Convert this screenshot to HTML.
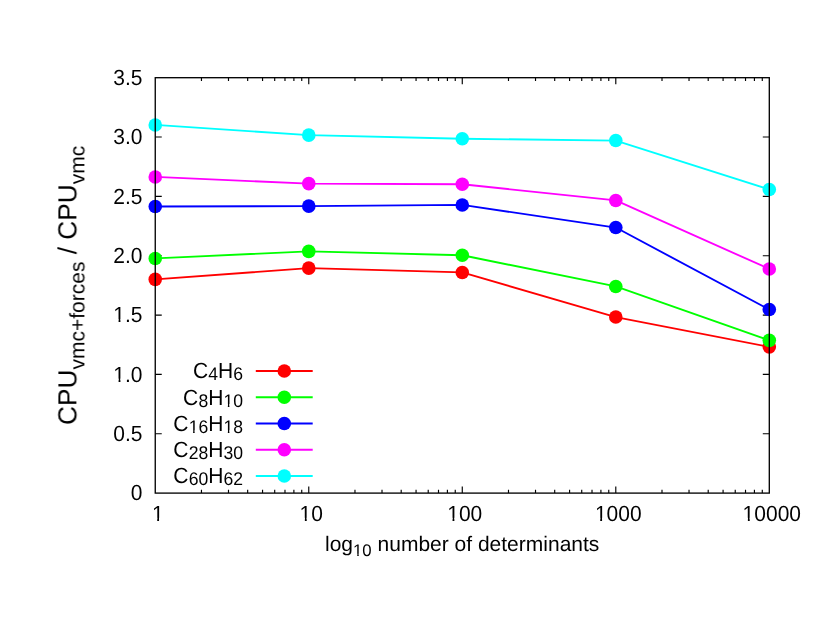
<!DOCTYPE html>
<html lang="en"><head><meta charset="utf-8"><title>CPU ratio vs number of determinants</title>
<style>
html,body{margin:0;padding:0;background:#fff;width:830px;height:642px;overflow:hidden;font-family:"Liberation Sans",sans-serif}
svg{position:absolute;left:0;top:0;display:block}
</style>
</head><body>
<svg width="830" height="642" viewBox="0 0 830 642" font-family="Liberation Sans, sans-serif" fill="#000" text-rendering="geometricPrecision">
<rect x="0" y="0" width="830" height="642" fill="#fff"/>
<path d="M155.25 433.76h6.5M769.30 433.76h-6.5M155.25 374.41h6.5M769.30 374.41h-6.5M155.25 315.07h6.5M769.30 315.07h-6.5M155.25 255.73h6.5M769.30 255.73h-6.5M155.25 196.39h6.5M769.30 196.39h-6.5M155.25 137.04h6.5M769.30 137.04h-6.5M201.46 493.10v-3.3M201.46 77.70v3.3M228.49 493.10v-3.3M228.49 77.70v3.3M247.67 493.10v-3.3M247.67 77.70v3.3M262.55 493.10v-3.3M262.55 77.70v3.3M274.71 493.10v-3.3M274.71 77.70v3.3M284.98 493.10v-3.3M284.98 77.70v3.3M293.89 493.10v-3.3M293.89 77.70v3.3M301.74 493.10v-3.3M301.74 77.70v3.3M308.76 493.10v-6.5M308.76 77.70v6.5M354.97 493.10v-3.3M354.97 77.70v3.3M382.01 493.10v-3.3M382.01 77.70v3.3M401.19 493.10v-3.3M401.19 77.70v3.3M416.06 493.10v-3.3M416.06 77.70v3.3M428.22 493.10v-3.3M428.22 77.70v3.3M438.50 493.10v-3.3M438.50 77.70v3.3M447.40 493.10v-3.3M447.40 77.70v3.3M455.25 493.10v-3.3M455.25 77.70v3.3M462.27 493.10v-6.5M462.27 77.70v6.5M508.49 493.10v-3.3M508.49 77.70v3.3M535.52 493.10v-3.3M535.52 77.70v3.3M554.70 493.10v-3.3M554.70 77.70v3.3M569.58 493.10v-3.3M569.58 77.70v3.3M581.73 493.10v-3.3M581.73 77.70v3.3M592.01 493.10v-3.3M592.01 77.70v3.3M600.91 493.10v-3.3M600.91 77.70v3.3M608.76 493.10v-3.3M608.76 77.70v3.3M615.79 493.10v-6.5M615.79 77.70v6.5M662.00 493.10v-3.3M662.00 77.70v3.3M689.03 493.10v-3.3M689.03 77.70v3.3M708.21 493.10v-3.3M708.21 77.70v3.3M723.09 493.10v-3.3M723.09 77.70v3.3M735.24 493.10v-3.3M735.24 77.70v3.3M745.52 493.10v-3.3M745.52 77.70v3.3M754.42 493.10v-3.3M754.42 77.70v3.3M762.28 493.10v-3.3M762.28 77.70v3.3" stroke="#000" stroke-width="1.15" fill="none"/>
<path d="M155.25 279.35L308.76 268.15L462.27 272.45L615.79 317.05L769.30 346.85" stroke="#ff0000" stroke-width="1.85" fill="none" stroke-linejoin="round"/>
<circle cx="155.25" cy="279.35" r="6.8" fill="#ff0000"/>
<circle cx="308.76" cy="268.15" r="6.8" fill="#ff0000"/>
<circle cx="462.27" cy="272.45" r="6.8" fill="#ff0000"/>
<circle cx="615.79" cy="317.05" r="6.8" fill="#ff0000"/>
<circle cx="769.30" cy="346.85" r="6.8" fill="#ff0000"/>
<path d="M155.25 258.45L308.76 251.35L462.27 255.25L615.79 286.45L769.30 340.35" stroke="#00ff00" stroke-width="1.85" fill="none" stroke-linejoin="round"/>
<circle cx="155.25" cy="258.45" r="6.8" fill="#00ff00"/>
<circle cx="308.76" cy="251.35" r="6.8" fill="#00ff00"/>
<circle cx="462.27" cy="255.25" r="6.8" fill="#00ff00"/>
<circle cx="615.79" cy="286.45" r="6.8" fill="#00ff00"/>
<circle cx="769.30" cy="340.35" r="6.8" fill="#00ff00"/>
<path d="M155.25 206.45L308.76 206.15L462.27 204.95L615.79 227.55L769.30 309.55" stroke="#0000ff" stroke-width="1.85" fill="none" stroke-linejoin="round"/>
<circle cx="155.25" cy="206.45" r="6.8" fill="#0000ff"/>
<circle cx="308.76" cy="206.15" r="6.8" fill="#0000ff"/>
<circle cx="462.27" cy="204.95" r="6.8" fill="#0000ff"/>
<circle cx="615.79" cy="227.55" r="6.8" fill="#0000ff"/>
<circle cx="769.30" cy="309.55" r="6.8" fill="#0000ff"/>
<path d="M155.25 176.95L308.76 183.65L462.27 184.25L615.79 200.45L769.30 268.95" stroke="#ff00ff" stroke-width="1.85" fill="none" stroke-linejoin="round"/>
<circle cx="155.25" cy="176.95" r="6.8" fill="#ff00ff"/>
<circle cx="308.76" cy="183.65" r="6.8" fill="#ff00ff"/>
<circle cx="462.27" cy="184.25" r="6.8" fill="#ff00ff"/>
<circle cx="615.79" cy="200.45" r="6.8" fill="#ff00ff"/>
<circle cx="769.30" cy="268.95" r="6.8" fill="#ff00ff"/>
<path d="M155.25 124.95L308.76 135.15L462.27 138.75L615.79 140.55L769.30 189.45" stroke="#00ffff" stroke-width="1.85" fill="none" stroke-linejoin="round"/>
<circle cx="155.25" cy="124.95" r="6.8" fill="#00ffff"/>
<circle cx="308.76" cy="135.15" r="6.8" fill="#00ffff"/>
<circle cx="462.27" cy="138.75" r="6.8" fill="#00ffff"/>
<circle cx="615.79" cy="140.55" r="6.8" fill="#00ffff"/>
<circle cx="769.30" cy="189.45" r="6.8" fill="#00ffff"/>
<path d="M255.8 371.00H312.7" stroke="#ff0000" stroke-width="1.85" fill="none"/>
<circle cx="284.3" cy="371.00" r="6.8" fill="#ff0000"/>
<path d="M255.8 397.24H312.7" stroke="#00ff00" stroke-width="1.85" fill="none"/>
<circle cx="284.3" cy="397.24" r="6.8" fill="#00ff00"/>
<path d="M255.8 423.48H312.7" stroke="#0000ff" stroke-width="1.85" fill="none"/>
<circle cx="284.3" cy="423.48" r="6.8" fill="#0000ff"/>
<path d="M255.8 449.72H312.7" stroke="#ff00ff" stroke-width="1.85" fill="none"/>
<circle cx="284.3" cy="449.72" r="6.8" fill="#ff00ff"/>
<path d="M255.8 475.96H312.7" stroke="#00ffff" stroke-width="1.85" fill="none"/>
<circle cx="284.3" cy="475.96" r="6.8" fill="#00ffff"/>
<rect x="155.25" y="77.7" width="614.05" height="415.40" fill="none" stroke="#000" stroke-width="1.33"/>
<g opacity="0.999">
<g transform="translate(243.0 378.40) scale(1.0 1.044)"><text id="lg0" text-anchor="end"><tspan font-size="21.0">C</tspan><tspan font-size="17.6" dx="0.2" dy="2.0">4</tspan><tspan font-size="21.0" dy="-2.0">H</tspan><tspan font-size="17.6" dy="2.0">6</tspan></text></g>
<g transform="translate(243.0 404.64) scale(1.0 1.044)"><text id="lg1" text-anchor="end"><tspan font-size="21.0">C</tspan><tspan font-size="17.6" dx="0.2" dy="2.0">8</tspan><tspan font-size="21.0" dy="-2.0">H</tspan><tspan font-size="17.6" dy="2.0">10</tspan></text><rect x="-19.34" y="-0.61" width="4.19" height="3.71" fill="#fff"/><rect x="-13.60" y="-0.61" width="4.05" height="3.71" fill="#fff"/></g>
<g transform="translate(243.0 430.88) scale(1.0 1.044)"><text id="lg2" text-anchor="end"><tspan font-size="21.0">C</tspan><tspan font-size="17.6" dx="0.2" dy="2.0">16</tspan><tspan font-size="21.0" dy="-2.0">H</tspan><tspan font-size="17.6" dy="2.0">18</tspan></text><rect x="-54.09" y="-0.61" width="4.19" height="3.71" fill="#fff"/><rect x="-48.35" y="-0.61" width="4.05" height="3.71" fill="#fff"/><rect x="-19.34" y="-0.61" width="4.19" height="3.71" fill="#fff"/><rect x="-13.60" y="-0.61" width="4.05" height="3.71" fill="#fff"/></g>
<g transform="translate(243.0 457.12) scale(1.0 1.044)"><text id="lg3" text-anchor="end"><tspan font-size="21.0">C</tspan><tspan font-size="17.6" dx="0.2" dy="2.0">28</tspan><tspan font-size="21.0" dy="-2.0">H</tspan><tspan font-size="17.6" dy="2.0">30</tspan></text></g>
<g transform="translate(243.0 483.36) scale(1.0 1.044)"><text id="lg4" text-anchor="end"><tspan font-size="21.0">C</tspan><tspan font-size="17.6" dx="0.2" dy="2.0">60</tspan><tspan font-size="21.0" dy="-2.0">H</tspan><tspan font-size="17.6" dy="2.0">62</tspan></text></g>
<g transform="translate(142.5 500.30) scale(1 1.044)"><text id="yt0" text-anchor="end"><tspan font-size="21.0">0</tspan></text></g>
<g transform="translate(142.5 440.96) scale(1 1.044)"><text id="yt1" text-anchor="end"><tspan font-size="21.0">0.5</tspan></text></g>
<g transform="translate(142.5 381.61) scale(1 1.044)"><text id="yt2" text-anchor="end"><tspan font-size="21.0">1.0</tspan></text><rect x="-28.70" y="-2.87" width="4.78" height="3.97" fill="#fff"/><rect x="-22.07" y="-2.87" width="4.62" height="3.97" fill="#fff"/></g>
<g transform="translate(142.5 322.27) scale(1 1.044)"><text id="yt3" text-anchor="end"><tspan font-size="21.0">1.5</tspan></text><rect x="-28.70" y="-2.87" width="4.78" height="3.97" fill="#fff"/><rect x="-22.07" y="-2.87" width="4.62" height="3.97" fill="#fff"/></g>
<g transform="translate(142.5 262.93) scale(1 1.044)"><text id="yt4" text-anchor="end"><tspan font-size="21.0">2.0</tspan></text></g>
<g transform="translate(142.5 203.59) scale(1 1.044)"><text id="yt5" text-anchor="end"><tspan font-size="21.0">2.5</tspan></text></g>
<g transform="translate(142.5 144.24) scale(1 1.044)"><text id="yt6" text-anchor="end"><tspan font-size="21.0">3.0</tspan></text></g>
<g transform="translate(142.5 84.90) scale(1 1.044)"><text id="yt7" text-anchor="end"><tspan font-size="21.0">3.5</tspan></text></g>
<g transform="translate(157.75 520.8) scale(1 1.044)"><text id="xt0" text-anchor="middle"><tspan font-size="21.0">1</tspan></text><rect x="-5.34" y="-2.87" width="4.78" height="3.97" fill="#fff"/><rect x="1.29" y="-2.87" width="4.62" height="3.97" fill="#fff"/></g>
<g transform="translate(311.26 520.8) scale(1 1.044)"><text id="xt1" text-anchor="middle"><tspan font-size="21.0">10</tspan></text><rect x="-11.18" y="-2.87" width="4.78" height="3.97" fill="#fff"/><rect x="-4.54" y="-2.87" width="4.62" height="3.97" fill="#fff"/></g>
<g transform="translate(464.77 520.8) scale(1 1.044)"><text id="xt2" text-anchor="middle"><tspan font-size="21.0">100</tspan></text><rect x="-17.02" y="-2.87" width="4.78" height="3.97" fill="#fff"/><rect x="-10.39" y="-2.87" width="4.62" height="3.97" fill="#fff"/></g>
<g transform="translate(618.29 520.8) scale(1 1.044)"><text id="xt3" text-anchor="middle"><tspan font-size="21.0">1000</tspan></text><rect x="-22.86" y="-2.87" width="4.78" height="3.97" fill="#fff"/><rect x="-16.22" y="-2.87" width="4.62" height="3.97" fill="#fff"/></g>
<g transform="translate(771.80 520.8) scale(1 1.044)"><text id="xt4" text-anchor="middle"><tspan font-size="21.0">10000</tspan></text><rect x="-28.70" y="-2.87" width="4.78" height="3.97" fill="#fff"/><rect x="-22.07" y="-2.87" width="4.62" height="3.97" fill="#fff"/></g>
<g transform="translate(325.0 550.9)"><text id="xl" text-anchor="start"><tspan font-size="21.0">log</tspan><tspan font-size="16.8" dy="5.4">10</tspan><tspan font-size="21.0" dy="-5.4"> number of determinants</tspan></text><rect x="28.21" y="2.84" width="4.04" height="3.66" fill="#fff"/><rect x="33.74" y="2.84" width="3.91" height="3.66" fill="#fff"/></g>
<g transform="translate(76.4 425.0) rotate(-90)"><text id="yl" text-anchor="start"><tspan font-size="26.25">CPU</tspan><tspan font-size="21.0" dy="8.2">vmc+forces</tspan><tspan font-size="26.25" dy="-8.2"> / CPU</tspan><tspan font-size="21.0" dy="8.2">vmc</tspan></text></g>
</g>
</svg>
</body></html>
